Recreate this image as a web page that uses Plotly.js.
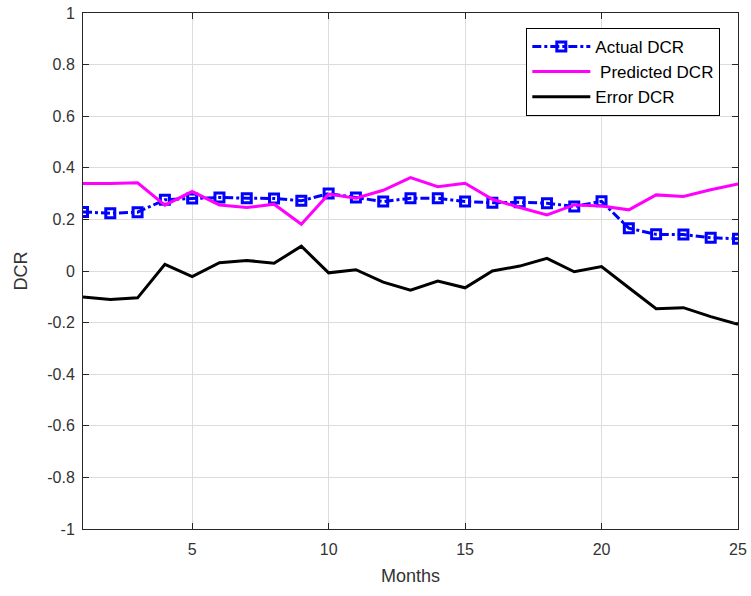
<!DOCTYPE html>
<html>
<head>
<meta charset="utf-8">
<script src="https://cdn.plot.ly/plotly-3.0.1.min.js"></script>
<style>html,body{margin:0;padding:0;background:#fff;}#chart{width:751px;height:596px;}</style>
</head>
<body>
<div id="chart"></div>
<script>
const months = [1,2,3,4,5,6,7,8,9,10,11,12,13,14,15,16,17,18,19,20,21,22,23,24,25];
const actualDCR = [0.229,0.224,0.228,0.276,0.281,0.285,0.282,0.281,0.272,0.300,0.285,0.269,0.282,0.282,0.269,0.265,0.266,0.263,0.250,0.270,0.166,0.142,0.141,0.129,0.125];
const predictedDCR = [0.339,0.339,0.342,0.255,0.308,0.256,0.246,0.259,0.181,0.298,0.282,0.313,0.362,0.327,0.340,0.278,0.246,0.217,0.256,0.252,0.237,0.295,0.289,0.315,0.337];
const errorDCR = [-0.101,-0.110,-0.104,0.026,-0.022,0.032,0.041,0.030,0.096,-0.007,0.005,-0.043,-0.074,-0.039,-0.065,0.000,0.019,0.049,-0.003,0.017,-0.065,-0.146,-0.142,-0.177,-0.207];
const xTicks = [5,10,15,20,25];
const yTicks = [-1,-0.8,-0.6,-0.4,-0.2,0,0.2,0.4,0.6,0.8,1];
const yTickText = ['-1','-0.8','-0.6','-0.4','-0.2','0','0.2','0.4','0.6','0.8','1'];

const axisColor = '#262626';
const font = 'Liberation Sans, Arial, sans-serif';

const traces = [
  {x: months, y: actualDCR, name: 'Actual DCR', type: 'scatter', mode: 'lines+markers',
   line: {color: '#0000ff', width: 3, dash: 'dashdot'},
   marker: {symbol: 'square-open', size: 9, color: '#0000ff', line: {color: '#0000ff', width: 3}}},
  {x: months, y: predictedDCR, name: ' Predicted DCR', type: 'scatter', mode: 'lines',
   line: {color: '#ff00ff', width: 3}},
  {x: months, y: errorDCR, name: 'Error DCR', type: 'scatter', mode: 'lines',
   line: {color: '#000000', width: 3}}
];

const layout = {
  width: 751, height: 596,
  margin: {l: 83, r: 13, t: 13, b: 67},
  paper_bgcolor: '#ffffff', plot_bgcolor: '#ffffff',
  font: {family: font, color: axisColor, size: 15},
  showlegend: true,
  legend: {x: 0.973, y: 0.971, xanchor: 'right', yanchor: 'top',
    bgcolor: '#ffffff', bordercolor: '#000000', borderwidth: 1,
    itemwidth: 58,
    font: {family: font, size: 17, color: '#000000'}, tracegroupgap: 0},
  xaxis: {range: [1, 25], tickvals: xTicks, ticktext: xTicks.map(String),
    showgrid: true, gridcolor: '#dcdcdc', gridwidth: 1, zeroline: false,
    showline: true, linecolor: axisColor, linewidth: 1, mirror: 'ticks',
    ticks: 'inside', ticklen: 6, tickcolor: axisColor, ticklabelstandoff: 6,
    tickfont: {family: font, size: 16, color: '#333333'},
    title: {text: 'Months', font: {family: font, size: 18, color: '#333333'}, standoff: 12}},
  yaxis: {range: [-1, 1], tickvals: yTicks, ticktext: yTickText,
    showgrid: true, gridcolor: '#dcdcdc', gridwidth: 1, zeroline: false,
    showline: true, linecolor: axisColor, linewidth: 1, mirror: 'ticks',
    ticks: 'inside', ticklen: 6, tickcolor: axisColor, ticklabelstandoff: 4,
    tickfont: {family: font, size: 16, color: '#333333'},
    title: {text: 'DCR', font: {family: font, size: 18, color: '#333333'}, standoff: 14}}
};

Plotly.newPlot('chart', traces, layout, {displayModeBar: false, staticPlot: true});
</script>
</body>
</html>
